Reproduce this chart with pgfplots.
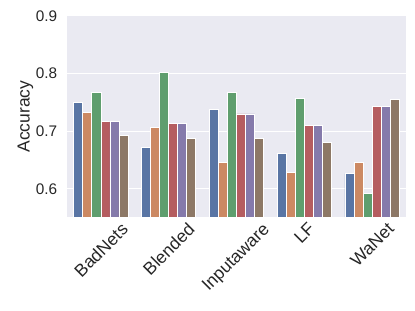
\documentclass[border=0pt]{standalone}
\usepackage{pgfplots}
\pgfplotsset{compat=1.18}
\usepackage{graphicx}
\usepackage{fontspec}
\setmainfont{Liberation Sans}
\definecolor{bgc}{HTML}{EAEAF2}
\definecolor{txt}{HTML}{262626}
\definecolor{c1}{HTML}{5975A4}
\definecolor{c2}{HTML}{CC8963}
\definecolor{c3}{HTML}{5F9E6E}
\definecolor{c4}{HTML}{B55D60}
\definecolor{c5}{HTML}{857AAB}
\definecolor{c6}{HTML}{8D7866}
\begin{document}
\begin{tikzpicture}
\begin{axis}[
  name=ax,
  scale only axis,
  width=339bp, height=201bp,
  xmin=-0.5, xmax=4.5,
  ymin=0.551, ymax=0.9,
  axis background/.style={fill=bgc},
  axis line style={draw=none},
  major tick length=0pt,
  ytick={0.6,0.7,0.8,0.9},
  yticklabels={0.6,0.7,0.8,0.9},
  ymajorgrids,
  grid style={white, line width=1bp},
  xtick={0,1,2,3,4},
  xticklabels={\rotatebox{45}{BadNets},\rotatebox{45}{Blended},\rotatebox{45}{Inputaware},\rotatebox{45}{LF},\rotatebox{45}{WaNet}},
  xticklabel style={anchor=north, inner sep=0pt, yshift=-4.5bp, font=\fontsize{17.6}{19}\selectfont, text=txt},
  yticklabel style={anchor=east, inner sep=0pt, xshift=-9.7bp, font=\fontsize{15.4}{17}\selectfont, text=txt},
  /pgf/number format/assume math mode=true,
  ylabel={Accuracy},
  ylabel style={at={(axis description cs:-0.1224,0.5)}, anchor=center, font=\fontsize{17.5}{19}\selectfont, text=txt},
  ybar,
  bar width=0.13333,
  every axis plot/.append style={draw=white, line width=0.8bp},
]
\addplot[fill=c1, bar shift=-0.33333] coordinates {(0,0.750) (1,0.672) (2,0.738) (3,0.661) (4,0.6265)};
\addplot[fill=c2, bar shift=-0.2] coordinates {(0,0.7325) (1,0.707) (2,0.6455) (3,0.629) (4,0.646)};
\addplot[fill=c3, bar shift=-0.06667] coordinates {(0,0.767) (1,0.802) (2,0.7666) (3,0.757) (4,0.592)};
\addplot[fill=c4, bar shift=0.06667] coordinates {(0,0.717) (1,0.7135) (2,0.730) (3,0.7095) (4,0.7436)};
\addplot[fill=c5, bar shift=0.2] coordinates {(0,0.717) (1,0.7135) (2,0.730) (3,0.7095) (4,0.7436)};
\addplot[fill=c6, bar shift=0.33333] coordinates {(0,0.692) (1,0.6875) (2,0.687) (3,0.680) (4,0.755)};
\end{axis}
\path ([shift={(-67bp,-94bp)}]ax.south west) rectangle ([shift={(348bp,217bp)}]ax.south west);
\end{tikzpicture}
\end{document}
